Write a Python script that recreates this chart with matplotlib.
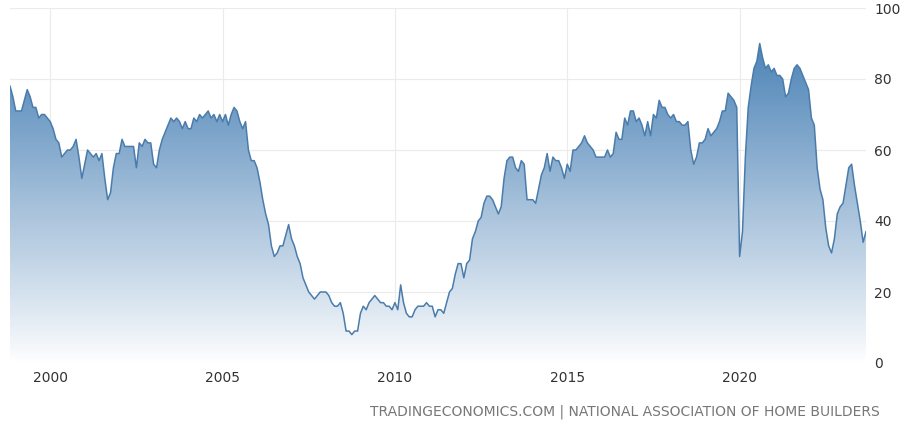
import numpy as np
import matplotlib.pyplot as plt
from matplotlib.colors import LinearSegmentedColormap

# NAHB housing market index, monthly, Nov 1998 - Dec 2023
start_year, start_month = 1998, 11
values = [
    78, 75,
    71, 71, 71, 74, 77, 75, 72, 72, 69, 70, 70, 69,
    68, 66, 63, 62, 58, 59, 60, 60, 61, 63, 58, 52,
    56, 60, 59, 58, 59, 57, 59, 52, 46, 48, 55, 59,
    59, 63, 61, 61, 61, 61, 55, 62, 61, 63, 62, 62,
    56, 55, 60, 63, 65, 67, 69, 68, 69, 68, 66, 68,
    66, 66, 69, 68, 70, 69, 70, 71, 69, 70, 68, 70,
    68, 70, 67, 70, 72, 71, 68, 66, 68, 60, 57, 57,
    55, 51, 46, 42, 39, 33, 30, 31, 33, 33, 36, 39,
    35, 33, 30, 28, 24, 22, 20, 19, 18, 19, 20, 20,
    20, 19, 17, 16, 16, 17, 14, 9, 9, 8, 9, 9,
    14, 16, 15, 17, 18, 19, 18, 17, 17, 16, 16, 15,
    17, 15, 22, 17, 14, 13, 13, 15, 16, 16, 16, 17,
    16, 16, 13, 15, 15, 14, 17, 20, 21, 25, 28, 28,
    24, 28, 29, 35, 37, 40, 41, 45, 47, 47, 46, 44,
    42, 44, 52, 57, 58, 58, 55, 54, 57, 56, 46, 46,
    46, 45, 49, 53, 55, 59, 54, 58, 57, 57, 55, 52,
    56, 54, 60, 60, 61, 62, 64, 62, 61, 60, 58, 58,
    58, 58, 60, 58, 59, 65, 63, 63, 69, 67, 71, 71,
    68, 69, 67, 64, 68, 64, 70, 69, 74, 72, 72, 70,
    69, 70, 68, 68, 67, 67, 68, 60, 56, 58, 62, 62,
    63, 66, 64, 65, 66, 68, 71, 71, 76, 75, 74, 72,
    30, 37, 58, 72, 78, 83, 85, 90, 86, 83, 84, 82,
    83, 81, 81, 80, 75, 76, 80, 83, 84, 83, 81, 79,
    77, 69, 67, 55, 49, 46, 38, 33, 31, 35, 42, 44,
    45, 50, 55, 56, 50, 45, 40, 34, 37,
]
year_ticks = [2000, 2005, 2010, 2015, 2020]
y_ticks = [0, 20, 40, 60, 80, 100]

t = start_year + (start_month - 1 + np.arange(len(values))) / 12.0
v = np.array(values, dtype=float)

fig = plt.figure(figsize=(9, 4.24), dpi=100)
ax = fig.add_axes([10 / 900, 61 / 424, 856 / 900, 355 / 424])
ax.set_xlim(t[0], t[-1])
ax.set_ylim(0, 100)

# gradient fill clipped to the area under the line
cmap = LinearSegmentedColormap.from_list('g', ['#ffffff', '#a9c3dc', '#4a82b6'])
grad = np.linspace(0, 1, 256).reshape(-1, 1) ** 0.9
img = ax.imshow(grad, cmap=cmap, aspect='auto', origin='lower',
                extent=[t[0], t[-1], 0, 92], zorder=1)
poly = ax.fill_between(t, v, 0, color='none', lw=0)
clip = poly.get_paths()[0]
img.set_clip_path(clip, transform=ax.transData)
ax.plot(t, v, color='#4a7cab', lw=1.1, zorder=3)

for y in y_ticks:
    ax.axhline(y, color='#ebebeb', lw=0.8, zorder=0)
for x in year_ticks:
    ax.axvline(x, color='#ebebeb', lw=0.8, zorder=0)

for s in ax.spines.values():
    s.set_visible(False)
ax.set_xticks(year_ticks)
ax.set_xticklabels([str(x) for x in year_ticks])
ax.set_yticks(y_ticks)
ax.yaxis.tick_right()
ax.tick_params(length=0, labelsize=10, colors='#333333', pad=6)
ax.tick_params(axis='y', pad=6)

fig.text(880 / 900, 1 - 412 / 424,
         'TRADINGECONOMICS.COM | NATIONAL ASSOCIATION OF HOME BUILDERS',
         ha='right', va='center', fontsize=10, color='#777777')

fig.savefig('out.png', dpi=100)
